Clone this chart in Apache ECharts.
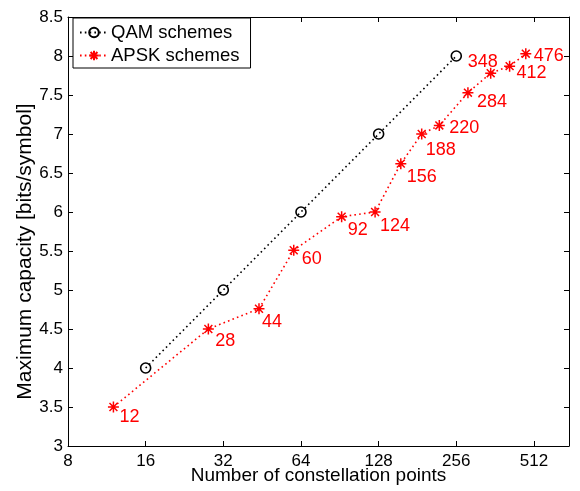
<!DOCTYPE html>
<html>
<head>
<meta charset="utf-8">
<script src="https://cdn.jsdelivr.net/npm/echarts@6/dist/echarts.min.js"></script>
<style>
html,body{margin:0;padding:0;background:#fff;}
#chart{width:580px;height:491px;}
</style>
</head>
<body>
<div id="chart"></div>
<script>
// ---- data ----
const qamPoints = [16, 32, 64, 128, 256];
const qamCapacity = [4, 5, 6, 7, 8];
const apskPoints = [12, 28, 44, 60, 92, 124, 156, 188, 220, 284, 348, 412, 476];
const apskCapacity = [3.5, 4.5, 4.76, 5.51, 5.94, 6.0, 6.62, 7.0, 7.11, 7.53, 7.78, 7.87, 8.03];
const seriesNames = ['QAM schemes', 'APSK schemes'];
const xAxisTitle = 'Number of constellation points';
const yAxisTitle = 'Maximum capacity [bits/symbol]';

// ---- style: label offsets (pixels, relative to the marker centre) ----
const labelOffsets = [[16,10],[17,12],[13,13],[18,9],[16,13],[20,14],[21,13],[19,16],[25,3],[24,9],[-8,-11],[22,7],[23,2]];

const FONT = 'Liberation Sans, Arial, Helvetica, sans-serif';
const asterisk = 'path://M0,-6L0,6M-6,0L6,0M-4.3,-4.3L4.3,4.3M-4.3,4.3L4.3,-4.3';

const chart = echarts.init(document.getElementById('chart'), null, {renderer: 'canvas'});

const xBase = {
  type: 'log', logBase: 2, min: 8, max: 700,
  axisLine: {show: true, onZero: false, lineStyle: {color: '#000', width: 1}},
  axisTick: {show: true, inside: true, length: 5, lineStyle: {color: '#000'}},
  splitLine: {show: false},
  minorTick: {show: false}
};
const yBase = {
  type: 'value', min: 3, max: 8.5, interval: 0.5,
  axisLine: {show: true, onZero: false, lineStyle: {color: '#000', width: 1}},
  axisTick: {show: true, inside: true, length: 5, lineStyle: {color: '#000'}},
  splitLine: {show: false}
};

chart.setOption({
  animation: false,
  backgroundColor: '#fff',
  grid: {left: 68, right: 11, top: 17, bottom: 45, containLabel: false, outerBoundsMode: 'none'},
  legend: {
    orient: 'vertical', left: 73, top: 18,
    data: seriesNames,
    backgroundColor: '#fff', borderColor: '#000', borderWidth: 1, borderRadius: 0,
    padding: [5, 11, 3, 6], itemGap: 4, itemWidth: 28, itemHeight: 12,
    textStyle: {fontFamily: FONT, fontSize: 18.5, color: '#000', padding: [0, 0, 0, -2]}
  },
  xAxis: [
    Object.assign({}, xBase, {
      position: 'bottom',
      name: xAxisTitle, nameLocation: 'middle', nameGap: 20, nameMoveOverlap: false,
      nameTextStyle: {fontFamily: FONT, fontSize: 19, color: '#000'},
      axisLabel: {show: true, color: '#000', fontFamily: FONT, fontSize: 17, margin: 7, showMaxLabel: false,
        formatter: v => String(Math.round(v))}
    }),
    Object.assign({}, xBase, {position: 'top', axisLabel: {show: false}})
  ],
  yAxis: [
    Object.assign({}, yBase, {
      position: 'left',
      name: yAxisTitle, nameLocation: 'middle', nameGap: 32, nameMoveOverlap: false,
      nameTextStyle: {fontFamily: FONT, fontSize: 21, color: '#000', padding: [0, 40, 0, 0]},
      axisLabel: {show: true, color: '#000', fontFamily: FONT, fontSize: 17, margin: 5,
        formatter: v => String(v)}
    }),
    Object.assign({}, yBase, {position: 'right', axisLabel: {show: false}})
  ],
  series: [
    {
      name: seriesNames[0], type: 'line', xAxisIndex: 0, yAxisIndex: 0,
      data: qamPoints.map((p, i) => [p, qamCapacity[i]]),
      symbol: 'circle', symbolSize: 10,
      lineStyle: {color: '#000', width: 1.6, type: [1.6, 3.2]},
      itemStyle: {color: 'rgba(255,255,255,0)', borderColor: '#000', borderWidth: 1.6},
      z: 3
    },
    {
      name: seriesNames[1], type: 'line', xAxisIndex: 0, yAxisIndex: 0,
      data: apskPoints.map((p, i) => [p, apskCapacity[i]]),
      symbol: asterisk, symbolSize: 11,
      lineStyle: {color: '#ff0000', width: 1.6, type: [1.6, 3.2]},
      itemStyle: {color: 'rgba(255,0,0,0)', borderColor: '#ff0000', borderWidth: 1.5},
      label: {
        show: true, position: 'inside', color: '#ff0000', fontFamily: FONT, fontSize: 18,
        formatter: p => String(p.value[0])
      },
      labelLayout: p => ({
        dx: labelOffsets[p.dataIndex][0],
        dy: labelOffsets[p.dataIndex][1],
        hideOverlap: false
      }),
      z: 4
    }
  ]
});
</script>
</body>
</html>
